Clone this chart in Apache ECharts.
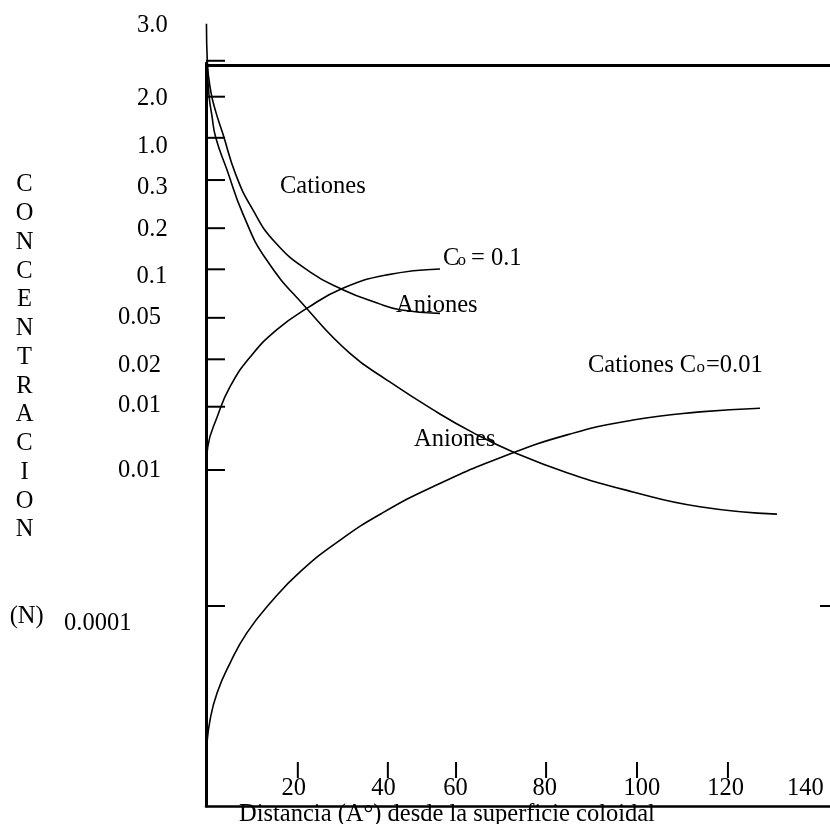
<!DOCTYPE html>
<html>
<head>
<meta charset="utf-8">
<script src="https://cdn.jsdelivr.net/npm/echarts@6/dist/echarts.min.js"></script>
<style>
html,body{margin:0;padding:0;background:#fff;}
#chart{width:830px;height:824px;}
</style>
</head>
<body>
<div id="chart"></div>
<script>
// ---- data (x: distance units along the drawn axis, y: position on the drawn concentration scale) ----
const cationesC01 = [[0.1,105.6],[0.3,100.4],[1.1,96.4],[2.2,93.7],[3.8,90.7],[6.7,85.2],[10.3,80.7],[15.5,76.1],[23.3,72.1],[30.7,69.7],[38.4,67.9],[43.5,67.0],[52.5,66.5]];
const cationesC001 = [[0.2,100.4],[0.7,95.8],[1.3,93.3],[2.2,90.2],[4.7,85.9],[8.3,79.9],[13.5,73.8],[22.7,67.1],[32.3,61.1],[40.6,57.5],[50.9,53.5],[59.9,50.4],[68.9,47.8],[81.0,45.0],[95.8,42.4],[110.8,40.4],[128.1,39.4]];
const anionesC01 = [[0.0,45.4],[0.4,48.5],[2.5,52.5],[5.4,56.6],[9.9,60.6],[15.9,64.3],[22.7,67.2],[30.7,69.9],[40.6,71.7],[52.5,72.5]];
const anionesC001 = [[0.1,6.5],[0.2,8.2],[0.9,11.6],[2.5,15.3],[5.4,19.3],[9.2,23.4],[14.4,27.4],[21.1,31.6],[30.1,35.9],[39.7,39.6],[50.9,43.1],[66.0,47.0],[81.0,50.1],[95.8,52.1],[110.8,53.2],[124.3,53.7]];

const yTickPos = [100.6, 95.75, 90.2, 84.5, 78.0, 72.45, 65.9, 60.3, 53.9, 45.36, 27.0];
const yLabelPos = [105.3, 95.5, 89.0, 83.5, 77.8, 71.5, 65.9, 59.5, 54.1, 45.3, 24.6];
const yLabelText = ['3.0','2.0','1.0','0.3','0.2','0.1','0.05','0.02','0.01','0.01','0.0001'];
const rightTickPos = [27.0];

const xTickPos = [20.6, 40.8, 56.1, 76.3, 96.7, 117.1];
const xLabelPos = [19.7, 39.8, 56.0, 76.0, 97.8, 116.6, 134.5];
const xLabelText = ['20','40','60','80','100','120','140'];

const frameTop = 100;

// ---- layout / style ----
const FONT = '24.5px "Liberation Serif", "Times New Roman", serif';
const SUBFONT = '17px "Liberation Serif", "Times New Roman", serif';
const yLabelDx = [-69,-69,-69,-69,-69,-69.5,-88,-88,-88,-88,-142];

const chart = echarts.init(document.getElementById('chart'), null, {renderer:'canvas'});

function curve(name, data, extra) {
  return Object.assign({
    name, type:'line', data, showSymbol:false, symbol:'none', smooth:0.5, clip:false,
    lineStyle:{color:'#000', width:1.6}, silent:true, z:4
  }, extra || {});
}

function txt(text, x, y, font, align) {
  return {type:'text', x, y, silent:true, style:{text, font: font || FONT, fill:'#000', align: align || 'left', verticalAlign:'middle'}};
}

const option = {
  animation:false,
  backgroundColor:'#fff',
  grid:{left:206, right:0, top:63, bottom:18, containLabel:false},
  xAxis:{type:'value', min:0, max:140,
    axisLine:{show:true, onZero:false, lineStyle:{color:'#000', width:2.5}},
    axisTick:{show:false}, axisLabel:{show:false}, splitLine:{show:false}},
  yAxis:{type:'value', min:0, max:100.3,
    axisLine:{show:true, onZero:false, lineStyle:{color:'#000', width:3}},
    axisTick:{show:false}, axisLabel:{show:false}, splitLine:{show:false}},
  series:[
    curve('Cationes C0=0.1', cationesC01, {
      markLine:{silent:true, symbol:['none','none'], label:{show:false},
        lineStyle:{color:'#000', width:3, type:'solid'}, data:[{yAxis:frameTop}]}
    }),
    curve('Cationes C0=0.01', cationesC001),
    curve('Aniones C0=0.1', anionesC01),
    curve('Aniones C0=0.01', anionesC001),
    { // y ticks (inside)
      type:'custom', coordinateSystem:'cartesian2d', clip:false, silent:true, z:5,
      data: yTickPos.map(v => [0, v]),
      renderItem:(params, api) => {
        const p = api.coord([api.value(0), api.value(1)]);
        return {type:'line', shape:{x1:p[0], y1:p[1], x2:p[0]+19, y2:p[1]}, style:{stroke:'#000', lineWidth:2}};
      }
    },
    { // right edge tick
      type:'custom', coordinateSystem:'cartesian2d', clip:false, silent:true, z:5,
      data: rightTickPos.map(v => [140, v]),
      renderItem:(params, api) => {
        const p = api.coord([api.value(0), api.value(1)]);
        return {type:'line', shape:{x1:p[0]-10, y1:p[1], x2:p[0], y2:p[1]}, style:{stroke:'#000', lineWidth:2}};
      }
    },
    { // y labels
      type:'custom', coordinateSystem:'cartesian2d', clip:false, silent:true, z:5,
      data: yLabelPos.map(v => [0, v]),
      renderItem:(params, api) => {
        const i = params.dataIndex;
        const p = api.coord([api.value(0), api.value(1)]);
        return {type:'text', x:p[0] + yLabelDx[i], y:p[1],
          style:{text:yLabelText[i], font:FONT, fill:'#000', align:'left', verticalAlign:'middle'}};
      }
    },
    { // x ticks (floating above the axis line)
      type:'custom', coordinateSystem:'cartesian2d', clip:false, silent:true, z:5,
      data: xTickPos.map(v => [v, 0]),
      renderItem:(params, api) => {
        const p = api.coord([api.value(0), api.value(1)]);
        return {type:'line', shape:{x1:p[0], y1:p[1]-28, x2:p[0], y2:p[1]-44}, style:{stroke:'#000', lineWidth:2}};
      }
    },
    { // x labels
      type:'custom', coordinateSystem:'cartesian2d', clip:false, silent:true, z:5,
      data: xLabelPos.map(v => [v, 0]),
      renderItem:(params, api) => {
        const i = params.dataIndex;
        const p = api.coord([api.value(0), api.value(1)]);
        return {type:'text', x:p[0], y:p[1]-17,
          style:{text:xLabelText[i], font:FONT, fill:'#000', align:'center', verticalAlign:'middle'}};
      }
    }
  ],
  graphic:[
    {type:'text', x:24.5, y:170.6, silent:true,
      style:{text:'CONCENTRACION'.split('').join('\n'), font:FONT, lineHeight:28.75, fill:'#000', align:'center', verticalAlign:'top'}},
    txt('(N)', 26.7, 617, FONT, 'center'),
    txt('Distancia (A°) desde la superficie coloidal', 239, 815),
    txt('Cationes', 280, 186.5),
    txt('C', 443, 258.3),
    txt('o', 457.5, 261, SUBFONT),
    txt('= 0.1', 471, 258.3),
    txt('Aniones', 396, 305.5),
    txt('Cationes C', 588, 365.3),
    txt('o', 696.5, 368, SUBFONT),
    txt('=0.01', 706, 365.3),
    txt('Aniones', 414, 440)
  ]
};
chart.setOption(option);
</script>
</body>
</html>
